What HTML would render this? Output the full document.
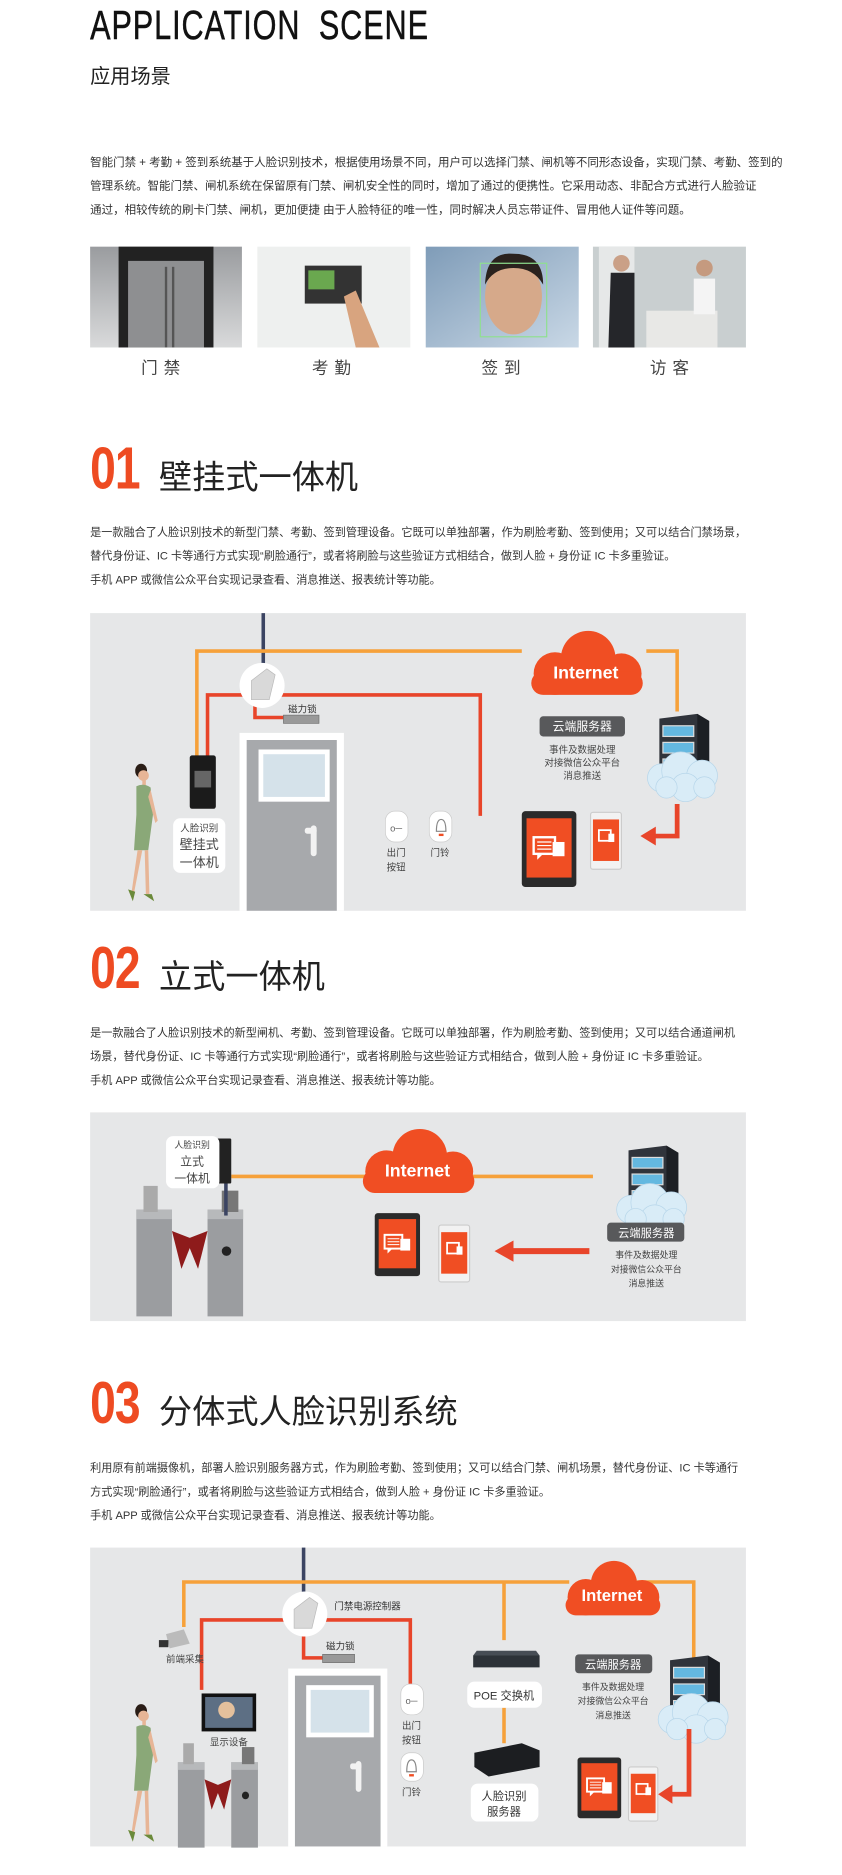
<!DOCTYPE html>
<html><head><meta charset="utf-8">
<style>
html,body{margin:0;padding:0;background:#fff;}
body{width:842px;height:1875px;overflow:hidden;position:relative;}
#w{position:absolute;left:0;top:0;width:710px;height:1581px;transform-origin:0 0;transform:scale(1.1859);font-family:"Liberation Sans","Noto Sans CJK SC",sans-serif;color:#222;}
.a{position:absolute;white-space:nowrap;}
.p{font-size:9.4px;line-height:20px;color:#333;}
.num{font-size:50px;font-weight:bold;color:#ee4b22;transform:scaleX(.78);transform-origin:0 0;letter-spacing:-1px;}
.h{font-size:28px;color:#222;}
.lab{font-size:14px;color:#444;letter-spacing:5px;}
svg{position:absolute;overflow:visible;}
svg text{font-family:"Liberation Sans","Noto Sans CJK SC",sans-serif;}
</style></head><body><div id="w">

<div class="a" style="left:76px;top:3px;font-size:34px;transform:scaleX(.76);transform-origin:0 0;letter-spacing:1px;word-spacing:10px;color:#111;-webkit-text-stroke:.4px #111;">APPLICATION SCENE</div>
<div class="a" style="left:76px;top:50px;font-size:17px;color:#222;">应用场景</div>

<div class="a p" style="left:76px;top:128px;font-size:9.7px;">智能门禁 + 考勤 + 签到系统基于人脸识别技术，根据使用场景不同，用户可以选择门禁、闸机等不同形态设备，实现门禁、考勤、签到的<br>管理系统。智能门禁、闸机系统在保留原有门禁、闸机安全性的同时，增加了通过的便携性。它采用动态、非配合方式进行人脸验证<br>通过，相较传统的刷卡门禁、闸机，更加便捷 由于人脸特征的唯一性，同时解决人员忘带证件、冒用他人证件等问题。</div>

<svg style="left:0;top:0" width="710" height="400" viewBox="0 0 710 400">
<defs><linearGradient id="g1" x1="0" y1="0" x2="0" y2="1"><stop offset="0" stop-color="#9a9c9f"/><stop offset="1" stop-color="#d9dadb"/></linearGradient>
<linearGradient id="g3" x1="0" y1="0" x2="1" y2="1"><stop offset="0" stop-color="#7f9cb8"/><stop offset="1" stop-color="#c9d8e6"/></linearGradient></defs>
<rect x="76" y="208" width="128" height="85" fill="url(#g1)"/>
<rect x="100" y="208" width="80" height="85" fill="#222"/><rect x="108" y="220" width="64" height="73" fill="#8e8f91"/>
<rect x="139" y="225" width="2" height="68" fill="#555"/><rect x="145" y="225" width="2" height="68" fill="#555"/>
<rect x="217" y="208" width="129" height="85" fill="#eef0ef"/>
<rect x="257" y="224" width="48" height="32" fill="#333"/><rect x="260" y="228" width="22" height="16" fill="#6aa84f"/>
<path d="M290 250 L300 245 L320 293 L300 293 Z" fill="#d8a47f"/>
<rect x="359" y="208" width="129" height="85" fill="url(#g3)"/>
<ellipse cx="433" cy="250" rx="24" ry="32" fill="#d6a98a"/><path d="M409 240 Q410 212 433 214 Q458 214 458 240 Q450 226 433 226 Q416 226 409 240Z" fill="#2a221e"/>
<rect x="405" y="222" width="56" height="62" fill="none" stroke="#8fe08f" stroke-width="1"/>
<rect x="500" y="208" width="129" height="85" fill="#c9cfd0"/>
<rect x="505" y="208" width="30" height="85" fill="#e6e8e8"/>
<path d="M515 230 h20 v63 h-22z" fill="#25262a"/><circle cx="524" cy="222" r="7" fill="#caa087"/>
<rect x="545" y="262" width="60" height="31" fill="#e8e8e6"/>
<path d="M585 235 h18 v30 h-18z" fill="#f4f4f4"/><circle cx="594" cy="226" r="7" fill="#c59a7f"/>
</svg>
<div class="a lab" style="left:119px;top:300px;">门禁</div>
<div class="a lab" style="left:263px;top:300px;">考勤</div>
<div class="a lab" style="left:406px;top:300px;">签到</div>
<div class="a lab" style="left:548px;top:300px;">访客</div>

<!-- 01 -->
<div class="a num" style="left:76px;top:366px;">01</div>
<div class="a h" style="left:134px;top:381px;">壁挂式一体机</div>
<div class="a p" style="left:76px;top:439px;">是一款融合了人脸识别技术的新型门禁、考勤、签到管理设备。它既可以单独部署，作为刷脸考勤、签到使用；又可以结合门禁场景，<br>替代身份证、IC 卡等通行方式实现“刷脸通行”，或者将刷脸与这些验证方式相结合，做到人脸 + 身份证 IC 卡多重验证。<br>手机 APP 或微信公众平台实现记录查看、消息推送、报表统计等功能。</div>

<svg width="0" height="0" style="position:absolute">
<defs>
<g id="cloud"><circle cx="-26" cy="8" r="18"/><circle cx="2" cy="-5" r="23"/><circle cx="30" cy="8" r="17"/><rect x="-46" y="6" width="94" height="20" rx="10"/></g>
<g id="srv">
<path d="M8 0 L40 -4 L50 2 L50 52 L8 52Z" fill="#30343b"/><path d="M40 -4 L50 2 L50 52 L40 52Z" fill="#1c1f24"/>
<rect x="11" y="6" width="26" height="9" fill="#64b8e0" stroke="#ddd" stroke-width="1"/>
<rect x="11" y="20" width="26" height="9" fill="#64b8e0" stroke="#ddd" stroke-width="1"/>
<rect x="11" y="34" width="26" height="9" fill="#64b8e0" stroke="#ddd" stroke-width="1"/>
<g fill="#d9ecf7" stroke="#b7d6ea" stroke-width=".6"><circle cx="10" cy="50" r="12"/><circle cx="26" cy="44" r="16"/><circle cx="44" cy="48" r="13"/><circle cx="30" cy="58" r="12"/><circle cx="14" cy="58" r="9"/><circle cx="46" cy="58" r="9"/></g>
</g>
<g id="tab"><rect x="0" y="0" width="46" height="64" rx="3" fill="#2b2b2b"/><rect x="4" y="6" width="38" height="50" fill="#f04e23"/>
<rect x="10" y="22" width="18" height="14" fill="none" stroke="#fff" stroke-width="2"/><path d="M13 36 l0 5 l5 -5z" fill="#fff"/><rect x="26" y="26" width="10" height="12" fill="#fff"/><path d="M13 26h12M13 29h12M13 32h12" stroke="#fff"/></g>
<g id="ph"><rect x="0" y="0" width="26" height="48" rx="2" fill="#f2f2f2" stroke="#ccc"/><rect x="2" y="6" width="22" height="35" fill="#f04e23"/>
<rect x="7" y="15" width="10" height="9" fill="none" stroke="#fff" stroke-width="1.5"/><rect x="15" y="18" width="5" height="7" fill="#fff"/></g>
<g id="woman">
<ellipse cx="16" cy="8" rx="5" ry="6" fill="#2a1d16"/><circle cx="18" cy="12" r="4.5" fill="#e7b596"/>
<rect x="17" y="16" width="3" height="5" fill="#e7b596"/>
<path d="M12 21 Q18 18 24 22 L26 45 L22 75 L10 75 L12 45 Z" fill="#8aa878"/>
<path d="M24 24 L30 50 L28 52 L22 30Z" fill="#e7b596"/>
<path d="M13 75 L8 110 L10 111 L17 75Z M19 75 L20 112 L23 112 L22 75Z" fill="#e7b596"/>
<path d="M5 108 l6 2 l-2 8 z M18 112 l7 0 l2 6 z" fill="#6b8a3a"/>
</g>
<g id="turn">
<path d="M0 20 h30 v90 h-30z" fill="#9b9da0"/><path d="M0 20 h30 v8 h-30z" fill="#b7b9bb"/><rect x="6" y="0" width="12" height="22" fill="#aaa"/>
<path d="M60 20 h30 v90 h-30z" fill="#9b9da0"/><path d="M60 20 h30 v8 h-30z" fill="#b7b9bb"/><rect x="72" y="4" width="14" height="18" fill="#777"/>
<path d="M30 38 L48 45 L38 70Z" fill="#8e1b1b"/><path d="M60 38 L42 45 L52 70Z" fill="#8e1b1b"/>
<circle cx="76" cy="55" r="4" fill="#222"/>
</g>
<g id="ctrl"><circle cx="0" cy="0" r="19" fill="#fff"/><path d="M-9 -4 L4 -14 L11 -9 L6 12 L-9 12Z" fill="#d9d9d9" stroke="#bbb" stroke-width=".6"/></g>
<g id="door"><rect x="0" y="0" width="88" height="150" fill="#fff"/><rect x="6" y="6" width="76" height="144" fill="#a7a9ac"/><rect x="16" y="14" width="60" height="44" fill="#fff"/><rect x="20" y="18" width="52" height="36" fill="#d5e2ea"/><rect x="60" y="78" width="5" height="26" rx="2.5" fill="#f2f2f2"/><rect x="55" y="80" width="10" height="5" rx="2" fill="#f2f2f2"/></g>
</defs></svg>

<svg style="left:76px;top:517px" width="553" height="251" viewBox="76 517 553 251">
<rect x="76" y="517" width="553" height="251" fill="#e6e7e8"/>
<line x1="222" y1="517" x2="222" y2="575" stroke="#3b4462" stroke-width="3"/>
<path d="M166 640 V549 H440 M545 549 H571 V600" fill="none" stroke="#f6a13a" stroke-width="3"/>
<path d="M175 640 V586 H405 V688 M215 588 V605 H240" fill="none" stroke="#e8452a" stroke-width="3"/>
<use href="#ctrl" x="221" y="578"/>
<rect x="239" y="603" width="30" height="7" fill="#999" stroke="#666" stroke-width=".5"/>
<text x="243" y="601" font-size="8" fill="#333">磁力锁</text>
<use href="#door" x="202" y="618"/>
<rect x="160" y="637" width="22" height="45" rx="2" fill="#1b1b1b"/><rect x="164" y="650" width="14" height="14" fill="#666"/>
<use href="#woman" x="103" y="642"/>
<rect x="146" y="690" width="44" height="46" rx="6" fill="#fff"/>
<text x="168" y="701" font-size="8" fill="#444" text-anchor="middle">人脸识别</text>
<text x="168" y="716" font-size="11" fill="#444" text-anchor="middle">壁挂式</text>
<text x="168" y="731" font-size="11" fill="#444" text-anchor="middle">一体机</text>
<rect x="325" y="684" width="19" height="26" rx="8" fill="#fff" stroke="#ccc" stroke-width=".6"/><text x="334" y="701" font-size="8" fill="#666" text-anchor="middle">o─</text>
<rect x="362" y="684" width="19" height="26" rx="8" fill="#fff" stroke="#ccc" stroke-width=".6"/><path d="M368 701 q0 -10 4 -10 q4 0 4 10z" fill="none" stroke="#888"/><rect x="370" y="703" width="4" height="2" fill="#f04e23"/>
<text x="334" y="722" font-size="8" fill="#444" text-anchor="middle">出门</text><text x="334" y="734" font-size="8" fill="#444" text-anchor="middle">按钮</text>
<text x="371" y="722" font-size="8" fill="#444" text-anchor="middle">门铃</text>
<use href="#cloud" x="494" y="560" fill="#f04e23"/>
<text x="494" y="572" font-size="15" font-weight="bold" fill="#fff" text-anchor="middle">Internet</text>
<rect x="455" y="604" width="72" height="17" rx="3" fill="#58595b"/>
<text x="491" y="616" font-size="10" fill="#fff" text-anchor="middle">云端服务器</text>
<text x="491" y="635" font-size="8" fill="#444" text-anchor="middle">事件及数据处理</text>
<text x="491" y="646" font-size="8" fill="#444" text-anchor="middle">对接微信公众平台</text>
<text x="491" y="657" font-size="8" fill="#444" text-anchor="middle">消息推送</text>
<use href="#srv" x="548" y="606"/>
<use href="#tab" x="440" y="684"/>
<use href="#ph" x="498" y="685"/>
<path d="M571 678 V705 H552" fill="none" stroke="#e8452a" stroke-width="4"/><path d="M553 697 L540 705 L553 713Z" fill="#e8452a"/>
</svg>

<!-- 02 -->
<div class="a num" style="left:76px;top:787px;">02</div>
<div class="a h" style="left:134px;top:802px;">立式一体机</div>
<div class="a p" style="left:76px;top:861px;">是一款融合了人脸识别技术的新型闸机、考勤、签到管理设备。它既可以单独部署，作为刷脸考勤、签到使用；又可以结合通道闸机<br>场景，替代身份证、IC 卡等通行方式实现“刷脸通行”，或者将刷脸与这些验证方式相结合，做到人脸 + 身份证 IC 卡多重验证。<br>手机 APP 或微信公众平台实现记录查看、消息推送、报表统计等功能。</div>

<svg style="left:76px;top:938px" width="553" height="176" viewBox="76 938 553 176">
<rect x="76" y="938" width="553" height="176" fill="#e6e7e8"/>
<path d="M195 992 H316 M397 992 H500" stroke="#f6a13a" stroke-width="3"/>
<use href="#turn" x="115" y="1000"/>
<rect x="189" y="995" width="3" height="30" fill="#3b4462"/>
<rect x="183" y="960" width="12" height="38" rx="1" fill="#222"/>
<rect x="140" y="958" width="45" height="44" rx="6" fill="#fff"/>
<text x="162" y="968" font-size="7.5" fill="#444" text-anchor="middle">人脸识别</text>
<text x="162" y="983" font-size="10" fill="#444" text-anchor="middle">立式</text>
<text x="162" y="997" font-size="10" fill="#444" text-anchor="middle">一体机</text>
<use href="#cloud" x="352" y="980" fill="#f04e23"/>
<text x="352" y="992" font-size="15" font-weight="bold" fill="#fff" text-anchor="middle">Internet</text>
<use href="#srv" x="522" y="970"/>
<rect x="512" y="1031" width="65" height="16" rx="3" fill="#58595b"/>
<text x="545" y="1043" font-size="9.5" fill="#fff" text-anchor="middle">云端服务器</text>
<text x="545" y="1061" font-size="7.5" fill="#444" text-anchor="middle">事件及数据处理</text>
<text x="545" y="1073" font-size="7.5" fill="#444" text-anchor="middle">对接微信公众平台</text>
<text x="545" y="1085" font-size="7.5" fill="#444" text-anchor="middle">消息推送</text>
<use href="#tab" x="316" y="1023" transform="translate(316 1023) scale(.83) translate(-316 -1023)"/>
<use href="#ph" x="370" y="1033"/>
<path d="M497 1055 H432" stroke="#e8452a" stroke-width="5"/><path d="M433 1046 L417 1055 L433 1064Z" fill="#e8452a"/>
</svg>

<!-- 03 -->
<div class="a num" style="left:76px;top:1154px;">03</div>
<div class="a h" style="left:134px;top:1169px;">分体式人脸识别系统</div>
<div class="a p" style="left:76px;top:1228px;">利用原有前端摄像机，部署人脸识别服务器方式，作为刷脸考勤、签到使用；又可以结合门禁、闸机场景，替代身份证、IC 卡等通行<br>方式实现“刷脸通行”，或者将刷脸与这些验证方式相结合，做到人脸 + 身份证 IC 卡多重验证。<br>手机 APP 或微信公众平台实现记录查看、消息推送、报表统计等功能。</div>

<svg style="left:76px;top:1305px" width="553" height="252" viewBox="76 1305 553 252">
<rect x="76" y="1305" width="553" height="252" fill="#e6e7e8"/>
<line x1="256" y1="1305" x2="256" y2="1345" stroke="#3b4462" stroke-width="3"/>
<path d="M155 1372 V1334 H480 M537 1334 H585 V1402 M425 1334 V1383 M425 1440 V1470" fill="none" stroke="#f6a13a" stroke-width="3"/>
<path d="M170 1425 V1366 H346 V1420 M256 1370 V1398 H272" fill="none" stroke="#e8452a" stroke-width="3"/>
<use href="#ctrl" x="257" y="1361"/>
<text x="282" y="1357" font-size="8" fill="#333">门禁电源控制器</text>
<rect x="272" y="1395" width="27" height="7" fill="#999" stroke="#666" stroke-width=".5"/>
<text x="275" y="1391" font-size="8" fill="#333">磁力锁</text>
<path d="M140 1378 L155 1374 L160 1386 L143 1390Z" fill="#bbb"/><rect x="134" y="1383" width="8" height="6" fill="#333"/>
<text x="156" y="1402" font-size="8" fill="#444" text-anchor="middle">前端采集</text>
<rect x="170" y="1428" width="46" height="32" fill="#111"/><rect x="173" y="1431" width="40" height="26" fill="#5d6f84"/><circle cx="191" cy="1442" r="7" fill="#e4c09c"/>
<text x="193" y="1472" font-size="8" fill="#444" text-anchor="middle">显示设备</text>
<use href="#door" x="243" y="1407" transform="translate(243 1407) scale(.95 1) translate(-243 -1407)"/>
<rect x="338" y="1420" width="19" height="26" rx="8" fill="#fff" stroke="#ccc" stroke-width=".6"/><text x="347" y="1437" font-size="8" fill="#666" text-anchor="middle">o─</text>
<text x="347" y="1458" font-size="8" fill="#444" text-anchor="middle">出门</text><text x="347" y="1470" font-size="8" fill="#444" text-anchor="middle">按钮</text>
<rect x="338" y="1478" width="19" height="24" rx="8" fill="#fff" stroke="#ccc" stroke-width=".6"/><path d="M343 1494 q0 -10 4 -10 q4 0 4 10z" fill="none" stroke="#888"/><rect x="345" y="1496" width="4" height="2" fill="#f04e23"/>
<text x="347" y="1514" font-size="8" fill="#444" text-anchor="middle">门铃</text>
<use href="#woman" x="103" y="1435"/>
<use href="#turn" x="150" y="1470" transform="translate(150 1470) scale(.75 .8) translate(-150 -1470)"/>
<path d="M399 1396 h56 v10 h-56z" fill="#2d3238"/><path d="M402 1392 h50 l3 4 h-56z" fill="#474d55"/>
<rect x="394" y="1418" width="63" height="22" rx="6" fill="#fff"/>
<text x="425" y="1433" font-size="9.5" fill="#333" text-anchor="middle">POE 交换机</text>
<path d="M400 1478 L440 1470 L455 1476 V1490 L412 1498 L400 1490Z" fill="#1c1e21"/>
<rect x="397" y="1504" width="57" height="32" rx="6" fill="#fff"/>
<text x="425" y="1518" font-size="9.5" fill="#333" text-anchor="middle">人脸识别</text>
<text x="425" y="1531" font-size="9.5" fill="#333" text-anchor="middle">服务器</text>
<use href="#cloud" x="516" y="1340" fill="#f04e23" transform="translate(516 1340) scale(.85) translate(-516 -1340)"/>
<text x="516" y="1350" font-size="14" font-weight="bold" fill="#fff" text-anchor="middle">Internet</text>
<rect x="485" y="1395" width="65" height="16" rx="3" fill="#58595b"/>
<text x="517" y="1407" font-size="9.5" fill="#fff" text-anchor="middle">云端服务器</text>
<text x="517" y="1425" font-size="7.5" fill="#444" text-anchor="middle">事件及数据处理</text>
<text x="517" y="1437" font-size="7.5" fill="#444" text-anchor="middle">对接微信公众平台</text>
<text x="517" y="1449" font-size="7.5" fill="#444" text-anchor="middle">消息推送</text>
<use href="#srv" x="557" y="1400"/>
<use href="#tab" x="487" y="1482" transform="translate(487 1482) scale(.8) translate(-487 -1482)"/>
<use href="#ph" x="530" y="1490" transform="translate(530 1490) scale(.95) translate(-530 -1490)"/>
<path d="M581 1458 V1513 H566" fill="none" stroke="#e8452a" stroke-width="4"/><path d="M567 1505 L555 1513 L567 1521Z" fill="#e8452a"/>
</svg>

</div></body></html>
